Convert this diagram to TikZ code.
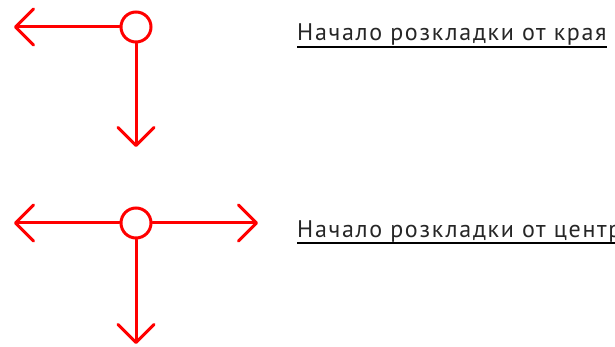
\documentclass[tikz,border=0pt]{standalone}
\usepackage{fontspec}
\setmainfont[LetterSpace=7]{PT Sans}
\usetikzlibrary{arrows.meta}
\definecolor{arrred}{RGB}{255,0,0}
\tikzset{
  marker/.style={circle, draw=arrred, line width=3pt, minimum size=30pt, inner sep=0pt, fill=white},
  ray/.style={draw=arrred, line width=3pt, line cap=round, -{Straight Barb[length=18pt,width=36pt,line cap=round,line join=round]}},
  caption/.style={anchor=base west, inner sep=0pt, font=\fontsize{24pt}{28pt}\selectfont, text=black!85},
  uline/.style={draw=black, line width=2pt}
}
\begin{document}
\begin{tikzpicture}[x=1pt,y=-1pt]
\useasboundingbox (0,0) rectangle (615,347);
% upper symbol
\node[marker] (c1) at (136,27) {};
\coordinate (l1) at (14,27);
\coordinate (d1) at (136,147);
\draw[ray] (c1.west) -- (l1);
\draw[ray] (c1.south) -- (d1);
% lower symbol
\node[marker] (c2) at (136,223) {};
\coordinate (l2) at (14,223);
\coordinate (r2) at (258,223);
\coordinate (d2) at (136,344);
\draw[ray] (c2.west) -- (l2);
\draw[ray] (c2.east) -- (r2);
\draw[ray] (c2.south) -- (d2);
% captions
\node[caption] (t1) at (297,41) {Начало розкладки от края};
\draw[uline] ([yshift=-6pt]t1.base west) -- ([yshift=-6pt]t1.base east);
\node[caption] (t2) at (297,237) {Начало розкладки от центра};
\draw[uline] ([yshift=-6pt]t2.base west) -- ([yshift=-6pt]t2.base east);
\end{tikzpicture}
\end{document}
